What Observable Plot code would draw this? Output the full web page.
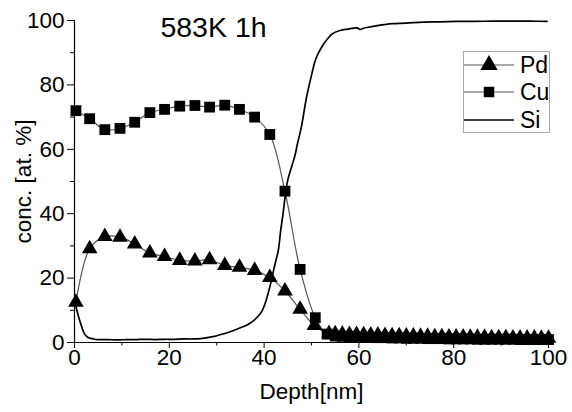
<!DOCTYPE html>
<html>
<head>
<meta charset="utf-8">
<script src="https://cdn.jsdelivr.net/npm/d3@7"></script>
<script src="https://cdn.jsdelivr.net/npm/@observablehq/plot@0.6"></script>
<style>
  html, body { margin: 0; padding: 0; background: #fff; }
  #wrap { position: relative; width: 572px; height: 412px; }
  #legend { position: absolute; left: 463px; top: 51px; }
</style>
</head>
<body>
<div id="wrap"><div id="chart"></div><div id="legend"></div></div>
<script>
// ---- data ----
const title = "583K 1h";
const xLabel = "Depth[nm]";
const yLabel = "conc. [at. %]";
const seriesNames = ["Pd", "Cu", "Si"];

const depthPd = [0.3, 3.2, 6.4, 9.6, 12.7, 15.9, 19.0, 22.2, 25.4, 28.5, 31.7, 34.8, 38.0, 41.2, 44.4, 47.6, 50.6, 53.7,
  55.0, 56.5, 58.0, 59.5, 61.0, 62.5, 64.0, 65.5, 67.0, 68.5, 70.0, 71.5, 73.0, 74.5, 76.0, 77.5, 79.0, 80.5, 82.0,
  83.5, 85.0, 86.5, 88.0, 89.5, 91.0, 92.5, 94.0, 95.5, 97.0, 98.5, 100.0];
const pd = [12.5, 29.1, 32.9, 32.7, 30.6, 27.8, 26.7, 25.5, 25.3, 25.7, 23.9, 23.4, 22.4, 20.2, 16.0, 10.3, 5.3, 2.8,
  2.7, 2.6, 2.5, 2.5, 2.4, 2.3, 2.3, 2.2, 2.1, 2.1, 2.0, 2.0, 1.9, 1.9, 1.8, 1.8, 1.7, 1.7, 1.7,
  1.6, 1.6, 1.6, 1.5, 1.5, 1.5, 1.4, 1.4, 1.4, 1.4, 1.3, 1.3];

const depthCu = [0.3, 3.2, 6.4, 9.6, 12.7, 15.9, 19.0, 22.2, 25.4, 28.5, 31.7, 34.8, 38.0, 41.2, 44.4, 47.6, 50.8, 53.3,
  55.0, 56.5, 58.0, 59.5, 61.0, 62.5, 64.0, 65.5, 67.0, 68.5, 70.0, 71.5, 73.0, 74.5, 76.0, 77.5, 79.0, 80.5, 82.0,
  83.5, 85.0, 86.5, 88.0, 89.5, 91.0, 92.5, 94.0, 95.5, 97.0, 98.5, 100.0];
const cu = [72.0, 69.5, 66.1, 66.5, 68.4, 71.4, 72.4, 73.4, 73.6, 73.1, 73.7, 72.4, 70.0, 64.6, 47.0, 22.7, 7.7, 2.6,
  2.0, 1.9, 1.8, 1.7, 1.6, 1.6, 1.5, 1.5, 1.4, 1.4, 1.3, 1.3, 1.3, 1.2, 1.2, 1.2, 1.1, 1.1, 1.1,
  1.1, 1.0, 1.0, 1.0, 1.0, 1.0, 1.0, 0.9, 0.9, 0.9, 0.9, 0.9];

const depthSi = [0, 0.5, 1, 1.5, 2, 2.5, 3, 4, 5, 7, 9, 11, 13, 15, 17, 19, 21, 23, 25, 27, 28, 29.5, 31.5, 33, 35, 36.5,
  37.8, 39, 39.6, 40.3, 41, 41.5, 42, 42.5, 43, 43.5, 44, 44.5, 45, 46, 46.6, 47, 47.7, 48, 49, 50, 50.8, 51.5, 52.6,
  53.5, 54.4, 56, 57, 58, 59.6, 60.3, 61, 62, 63.9, 65.3, 67, 70, 73.7, 77, 80.7, 84, 88, 92, 96, 99.7];
const si = [13.0, 10.0, 7.3, 5.0, 3.0, 2.0, 1.5, 1.1, 0.9, 0.9, 0.8, 0.9, 0.9, 1.0, 0.9, 1.0, 1.0, 1.1, 1.1, 1.3, 1.5, 1.9, 2.7, 3.4, 4.6, 5.5,
  6.8, 8.6, 9.9, 12.5, 16.1, 19.0, 22.4, 25.5, 28.6, 34.8, 40.0, 46.0, 50.5, 55.5, 58.6, 61.5, 65.8, 68.0, 76.5, 83.0, 87.6, 90.0, 92.8,
  94.5, 95.9, 96.9, 97.2, 97.4, 97.7, 97.2, 97.6, 97.9, 98.4, 98.7, 99.0, 99.2, 99.5, 99.6, 99.7, 99.7, 99.8, 99.8, 99.8, 99.7];

const xTicks = [0, 20, 40, 60, 80, 100];
const xMinor = [10, 30, 50, 70, 90];
const yTicks = [0, 20, 40, 60, 80, 100];
const yMinor = [10, 30, 50, 70, 90];

// ---- build tables ----
const pdData = depthPd.map((d, i) => ({depth: d, v: pd[i]}));
const cuData = depthCu.map((d, i) => ({depth: d, v: cu[i]}));
const siData = depthSi.map((d, i) => ({depth: d, v: si[i]}));

const font = "'Liberation Sans', Arial, Helvetica, sans-serif";
const fs = 22.5;

const chart = Plot.plot({
  width: 572,
  height: 412,
  marginLeft: 74,
  marginRight: 24,
  marginTop: 20,
  marginBottom: 70,
  style: {fontFamily: font, fontSize: fs + "px", color: "#000", background: "#fff", overflow: "visible"},
  x: {domain: [0, 100]},
  y: {domain: [0, 100]},
  marks: [
    Plot.axisX({ticks: xTicks, tickSize: 6, tickPadding: 1, label: null, fontSize: fs, stroke: "#000"}),
    Plot.axisX({ticks: xMinor, tickSize: 3.5, text: null, label: null, stroke: "#000"}),
    Plot.axisY({ticks: yTicks, tickSize: 7, tickPadding: 3, label: null, fontSize: fs, stroke: "#000"}),
    Plot.axisY({ticks: yMinor, tickSize: 4, text: null, label: null, stroke: "#000"}),
    Plot.ruleX([0], {stroke: "#000", strokeWidth: 1.2}),
    Plot.ruleY([0], {stroke: "#000", strokeWidth: 1.2}),
    Plot.line(pdData, {x: "depth", y: "v", stroke: "#555", strokeWidth: 1.2, curve: "catmull-rom"}),
    Plot.line(cuData, {x: "depth", y: "v", stroke: "#555", strokeWidth: 1.2, curve: "catmull-rom"}),
    Plot.line(siData, {x: "depth", y: "v", stroke: "#000", strokeWidth: 1.7, curve: "catmull-rom"}),
    Plot.dot(pdData, {x: "depth", y: "v", symbol: "triangle", r: 5.8, fill: "#000", stroke: "none"}),
    Plot.dot(cuData, {x: "depth", y: "v", symbol: "square", r: 6.1, fill: "#000", stroke: "none"}),
    Plot.text([title], {frameAnchor: "top-left", dx: 139, dy: 7, textAnchor: "middle", lineAnchor: "middle", fontSize: 28.5, fill: "#000"}),
    Plot.text([xLabel], {frameAnchor: "bottom", dy: 56, lineAnchor: "bottom", textAnchor: "middle", fontSize: fs, fill: "#000"}),
    Plot.text([yLabel], {frameAnchor: "left", dx: -51, rotate: -90, textAnchor: "middle", lineAnchor: "middle", fontSize: fs, fill: "#000"})
  ]
});
document.getElementById("chart").appendChild(chart);

// ---- legend (inside the plot area, top right) ----
const lw = 87, lh = 82;
const leg = d3.select("#legend").append("svg")
  .attr("width", lw).attr("height", lh)
  .style("font-family", font);
leg.append("rect").attr("x", 0.5).attr("y", 0.5).attr("width", lw - 1).attr("height", lh - 1)
  .attr("fill", "#fff").attr("stroke", "#aaa");
const rowY = [14, 41, 69];
const sym = [d3.symbolTriangle, d3.symbolSquare, null];
const symSize = [130, 110, 0];
seriesNames.forEach((name, i) => {
  const g = leg.append("g").attr("transform", `translate(0,${rowY[i]})`);
  g.append("line").attr("x1", 1).attr("x2", 51).attr("y1", 0).attr("y2", 0)
    .attr("stroke", i < 2 ? "#555" : "#000").attr("stroke-width", i < 2 ? 1.2 : 1.6);
  if (sym[i]) g.append("path").attr("transform", "translate(26,0)")
    .attr("d", d3.symbol(sym[i], symSize[i])()).attr("fill", "#000");
  g.append("text").attr("x", 57).attr("y", 0).attr("dy", "0.36em")
    .attr("font-size", 23).attr("fill", "#000").text(name);
});
</script>
</body>
</html>
